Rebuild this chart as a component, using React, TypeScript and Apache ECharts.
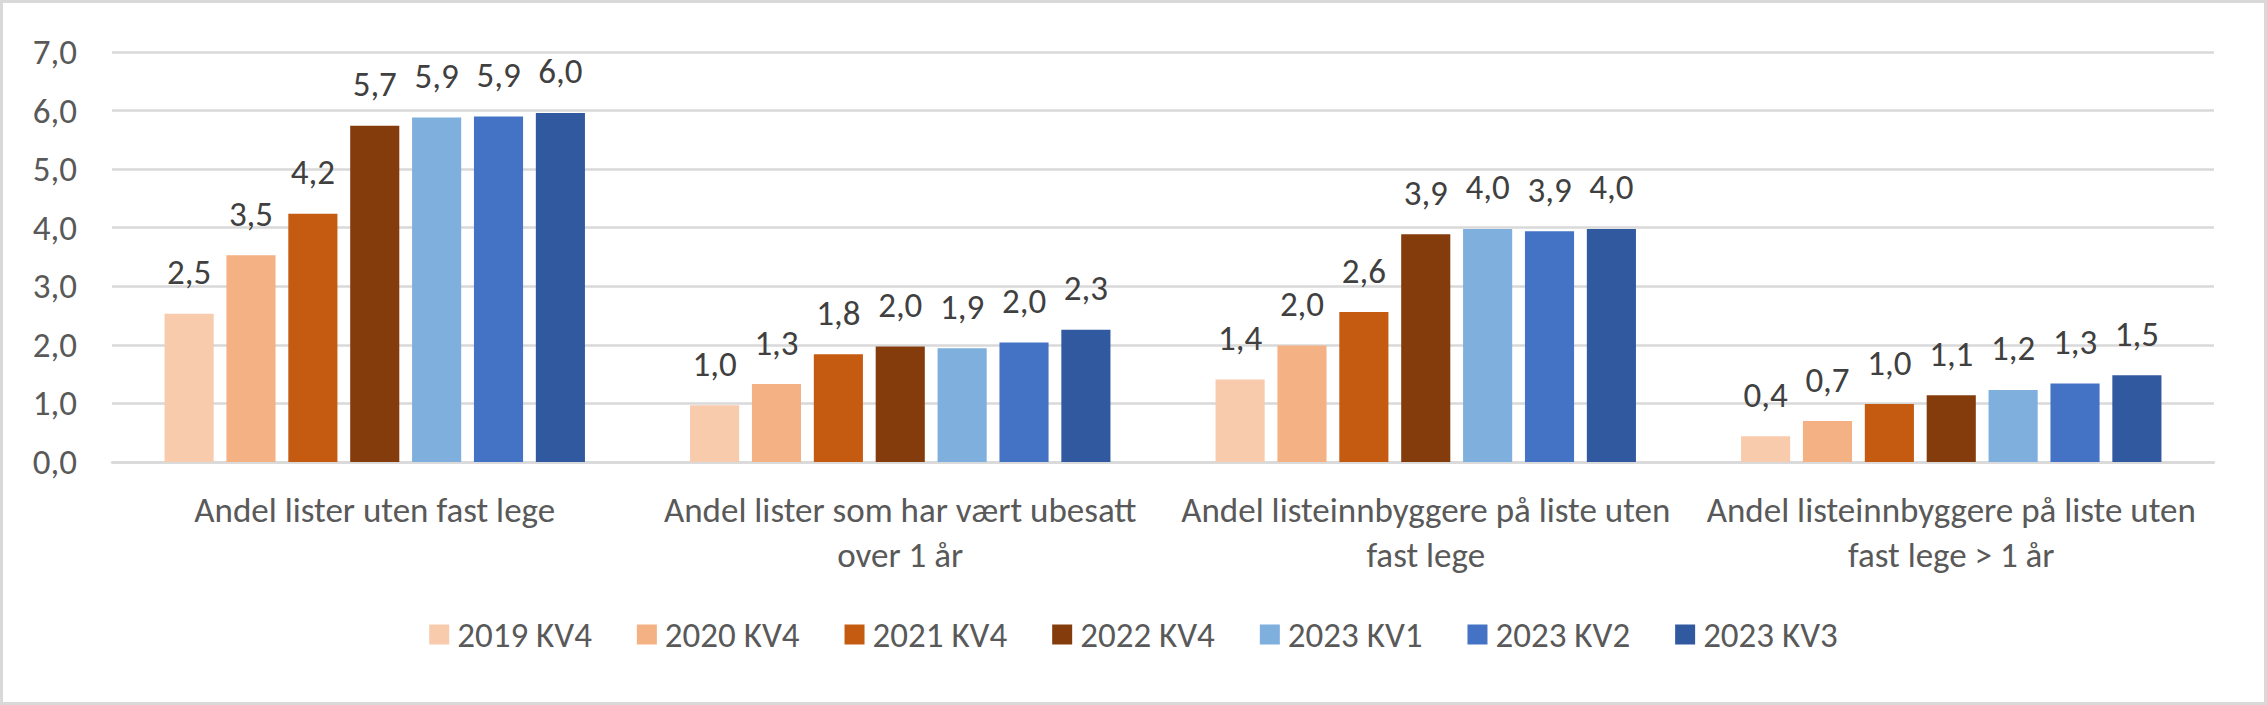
import React, { useEffect, useRef } from "react";
import * as echarts from "echarts";

const categories = [
  "Andel lister uten fast lege",
  "Andel lister som har vært ubesatt\nover 1 år",
  "Andel listeinnbyggere på liste uten\nfast lege",
  "Andel listeinnbyggere på liste uten\nfast lege > 1 år",
];

const seriesNames = [
  "2019 KV4",
  "2020 KV4",
  "2021 KV4",
  "2022 KV4",
  "2023 KV1",
  "2023 KV2",
  "2023 KV3",
];

const colors = [
  "#F8CBAD",
  "#F4B183",
  "#C55A11",
  "#843C0C",
  "#7FAFDD",
  "#4472C4",
  "#3159A0",
];

const v2019 = [2.53, 0.97, 1.41, 0.44];
const v2020 = [3.53, 1.33, 1.99, 0.7];
const v2021 = [4.24, 1.84, 2.56, 0.99];
const v2022 = [5.74, 1.97, 3.89, 1.14];
const v2023q1 = [5.88, 1.94, 3.98, 1.23];
const v2023q2 = [5.9, 2.04, 3.94, 1.34];
const v2023q3 = [5.96, 2.26, 3.98, 1.48];

const seriesValues = [v2019, v2020, v2021, v2022, v2023q1, v2023q2, v2023q3];

const yTicks = { min: 0, max: 7, interval: 1 };

const FONT = "Carlito, Calibri, Lato, sans-serif";
const FS = 35;

const fmt = (v: number) => v.toFixed(1).replace(".", ",");

export default function App() {
  const ref = useRef<HTMLDivElement>(null);
  useEffect(() => {
    if (!ref.current) return;
    const chart = echarts.init(ref.current, undefined, { renderer: "svg" });
    chart.setOption({
      animation: false,
      backgroundColor: "#ffffff",
      textStyle: { fontFamily: FONT },
      grid: { left: 112, right: 53, top: 52, bottom: 243, containLabel: false },
      legend: {
        data: seriesNames,
        bottom: 48,
        left: "center",
        itemWidth: 20,
        itemHeight: 20,
        itemGap: 45,
        icon: "rect",
        textStyle: { fontFamily: FONT, fontSize: FS, color: "#595959", padding: [0, 0, 0, 3] },
      },
      xAxis: {
        type: "category",
        data: categories,
        axisLine: { show: true, lineStyle: { color: "#D9D9D9", width: 2.5 } },
        axisTick: { show: false },
        axisLabel: {
          interval: 0,
          margin: 25,
          fontFamily: FONT,
          fontSize: FS,
          lineHeight: 45,
          color: "#595959",
        },
      },
      yAxis: {
        type: "value",
        min: yTicks.min,
        max: yTicks.max,
        interval: yTicks.interval,
        axisLine: { show: false },
        axisTick: { show: false },
        splitLine: { lineStyle: { color: "#D9D9D9", width: 2.5 } },
        axisLabel: {
          margin: 35,
          fontFamily: FONT,
          fontSize: FS,
          color: "#595959",
          formatter: (v: number) => fmt(v),
        },
      },
      graphic: [
        {
          type: "rect",
          shape: { x: 1.5, y: 1.5, width: 2264, height: 702 },
          style: { fill: "none", stroke: "#D9D9D9", lineWidth: 3 },
          silent: true,
        },
      ],
      series: seriesNames.map((name, i) => ({
        name,
        type: "bar",
        data: seriesValues[i],
        barGap: "26%",
        barCategoryGap: "20%",
        itemStyle: { color: colors[i] },
        label: {
          show: true,
          position: "top",
          distance: 24,
          fontFamily: FONT,
          fontSize: FS,
          color: "#404040",
          formatter: (p: any) => fmt(p.value),
        },
      })),
    });
    return () => chart.dispose();
  }, []);
  return (
    <div
      ref={ref}
      style={{ position: "absolute", left: 0, top: 0, width: 2267, height: 705 }}
    />
  );
}
